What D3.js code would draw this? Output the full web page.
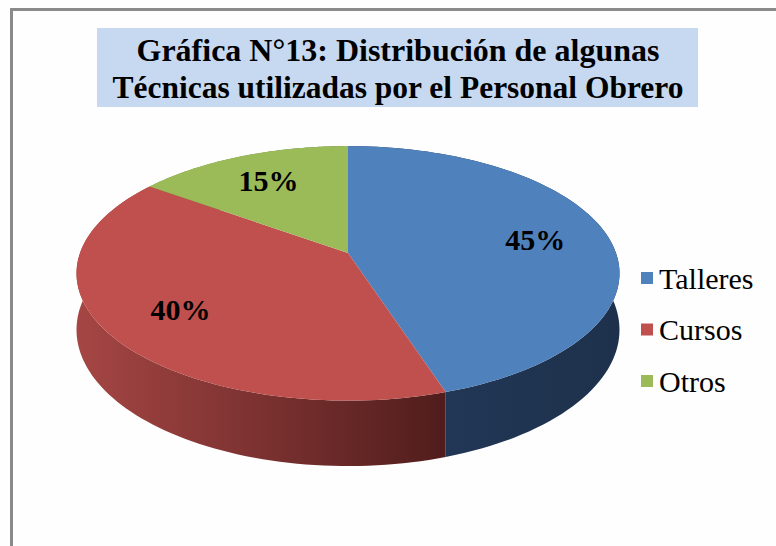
<!DOCTYPE html>
<html>
<head>
<meta charset="utf-8">
<script src="https://cdn.jsdelivr.net/npm/d3@7"></script>
<style>
  html, body { margin: 0; padding: 0; background: #fefefe; }
  svg { display: block; }
</style>
</head>
<body>
<svg id="chart" width="776" height="546"></svg>
<script>
// data
var categories = ["Talleres", "Cursos", "Otros"];
var values = [45, 40, 15];
var labels = ["45%", "40%", "15%"];
var titleLines = ["Gráfica N°13: Distribución de algunas", "Técnicas utilizadas por el Personal Obrero"];

var topColor = d3.scaleOrdinal().domain(categories).range(["#4f81bd", "#c0504d", "#9bbb59"]);
var sideLight = d3.scaleOrdinal().domain(categories).range(["#223a5a", "#a54644", "#7d9a45"]);
var sideDark = d3.scaleOrdinal().domain(categories).range(["#1e314c", "#501d1c", "#5e7535"]);

var svg = d3.select("#chart");
var width = 776, height = 546;

// 3d pie geometry (light perspective)
var cx = 348, cy = 253,
    rx = 268, ry = 124,
    persp = 0.16,
    depth = 55,
    steps = 90;

function proj(a, r, dz) {
  var u = r * Math.sin(a),
      v = -r * Math.cos(a),
      w = 1 - persp * v;
  return [cx + rx * u / w, cy + (ry * v + dz) / w];
}

function arcPoints(d, dz) {
  var pts = [];
  for (var i = 0; i <= steps; i++) {
    var a = d.startAngle + (d.endAngle - d.startAngle) * i / steps;
    pts.push(proj(a, 1, dz));
  }
  return pts;
}

var arcs = d3.pie().sort(null).value(function(d) { return d; })(values);
var line = d3.line();

// frame
svg.append("rect").attr("width", width).attr("height", height).attr("fill", "#fefefe");
svg.append("path")
    .attr("d", "M11.5," + (height + 2) + "V9.5H" + (width + 2))
    .attr("fill", "none")
    .attr("stroke", "#8a8a8a")
    .attr("stroke-width", 3);

// title
svg.append("rect")
    .attr("x", 97).attr("y", 28)
    .attr("width", 601).attr("height", 79)
    .attr("fill", "#c6d9f1");

var titleWidths = [523, 571];
svg.selectAll("text.title")
  .data(titleLines)
  .enter().append("text")
    .attr("class", "title")
    .attr("x", 398)
    .attr("y", function(d, i) { return 61 + i * 37; })
    .attr("text-anchor", "middle")
    .attr("textLength", function(d, i) { return titleWidths[i]; })
    .attr("lengthAdjust", "spacingAndGlyphs")
    .attr("font-family", "'Liberation Serif', 'Times New Roman', serif")
    .attr("font-weight", "bold")
    .attr("font-size", 31)
    .attr("fill", "#000")
    .text(function(d) { return d; });

// side gradients
var defs = svg.append("defs");
arcs.forEach(function(d, i) {
  var pts = arcPoints(d, 0);
  var xs = pts.map(function(p) { return p[0]; });
  var g = defs.append("linearGradient")
      .attr("id", "side" + i)
      .attr("gradientUnits", "userSpaceOnUse")
      .attr("x1", d3.min(xs)).attr("x2", d3.max(xs))
      .attr("y1", 0).attr("y2", 0);
  var light = sideLight(categories[i]), dark = sideDark(categories[i]);
  // the side gets darker toward the right edge of each slice
  g.append("stop").attr("offset", 0).attr("stop-color", light);
  g.append("stop").attr("offset", 1).attr("stop-color", dark);
});

// sides
svg.selectAll("path.side")
  .data(arcs)
  .enter().append("path")
    .attr("class", "side")
    .attr("d", function(d) {
      var top = arcPoints(d, 0),
          bottom = arcPoints(d, depth).reverse();
      return line(top.concat(bottom)) + "Z";
    })
    .attr("fill", function(d, i) { return "url(#side" + i + ")"; });

// top faces
svg.selectAll("path.top")
  .data(arcs)
  .enter().append("path")
    .attr("class", "top")
    .attr("d", function(d) {
      return line([[cx, cy]].concat(arcPoints(d, 0))) + "Z";
    })
    .attr("fill", function(d, i) { return topColor(categories[i]); });

// data labels
svg.selectAll("text.label")
  .data(arcs)
  .enter().append("text")
    .attr("class", "label")
    .attr("transform", function(d) {
      var p = proj((d.startAngle + d.endAngle) / 2, 0.72, 0);
      return "translate(" + p[0] + "," + p[1] + ")";
    })
    .attr("text-anchor", "middle")
    .attr("dy", "0.35em")
    .attr("font-family", "'Liberation Serif', 'Times New Roman', serif")
    .attr("font-weight", "bold")
    .attr("font-size", 30)
    .attr("fill", "#000")
    .text(function(d, i) { return labels[i]; });

// legend
var ly = d3.scalePoint().domain(categories).range([278, 381]);
var legend = svg.selectAll("g.legend")
  .data(categories)
  .enter().append("g")
    .attr("class", "legend")
    .attr("transform", function(d) { return "translate(641," + ly(d) + ")"; });

legend.append("rect")
    .attr("x", 0).attr("y", -6)
    .attr("width", 12).attr("height", 12)
    .attr("fill", function(d) { return topColor(d); });

legend.append("text")
    .attr("x", 18)
    .attr("dy", "0.35em")
    .attr("font-family", "'Liberation Serif', 'Times New Roman', serif")
    .attr("font-size", 30)
    .attr("fill", "#000")
    .text(function(d) { return d; });
</script>
</body>
</html>
